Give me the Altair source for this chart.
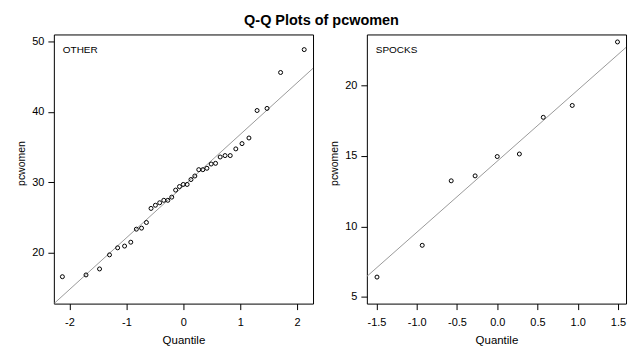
import altair as alt
import pandas as pd

FONT = "Liberation Sans"

# OTHER group: theoretical normal quantiles and sorted pcwomen values
other_q = [-2.125, -1.710, -1.472, -1.297, -1.154, -1.032, -0.923, -0.825, -0.734,
           -0.648, -0.567, -0.490, -0.415, -0.343, -0.272, -0.203, -0.135, -0.067,
           0.0,
           0.067, 0.135, 0.203, 0.272, 0.343, 0.415, 0.490, 0.567, 0.648,
           0.734, 0.825, 0.923, 1.032, 1.154, 1.297, 1.472, 1.710, 2.125]
other_pct = [16.6, 16.85, 17.7, 19.7, 20.7, 20.95, 21.5, 23.35, 23.5,
             24.3, 26.3, 26.75, 27.1, 27.45, 27.45, 27.9, 28.9, 29.4,
             29.7,
             29.7, 30.4, 30.9, 31.8, 31.8, 32.0, 32.6, 32.7, 33.6,
             33.8, 33.8, 34.75, 35.5, 36.3, 40.2, 40.5, 45.6, 48.85]
other_mean, other_sd = 29.46, 7.34

# SPOCKS group
spocks_q = [-1.494, -0.932, -0.572, -0.275, 0.0, 0.275, 0.572, 0.932, 1.494]
spocks_pct = [6.41, 8.66, 13.23, 13.58, 14.95, 15.13, 17.73, 18.57, 23.07]
spocks_mean, spocks_sd = 14.62, 5.04

other_xdom = [-2.275, 2.28]
other_ydom = [12.78, 51.0]
other_xticks = [-2, -1, 0, 1, 2]
other_yticks = [20, 30, 40, 50]

spocks_xdom = [-1.62, 1.60]
spocks_ydom = [4.53, 23.6]
spocks_xticks = [-1.5, -1.0, -0.5, 0.0, 0.5, 1.0, 1.5]
spocks_yticks = [5, 10, 15, 20]

W, H = 260, 270


def panel(q, pct, mu, sd, xdom, ydom, xticks, yticks, xfmt, label):
    pts = pd.DataFrame({"q": q, "pct": pct})
    ref = pd.DataFrame({"q": xdom, "pct": [mu + sd * x for x in xdom]})
    xs = alt.Scale(domain=xdom, nice=False, zero=False)
    ys = alt.Scale(domain=ydom, nice=False, zero=False)
    xaxis = alt.Axis(values=xticks, title="Quantile", titleFontSize=11.5,
                     titleBaseline="alphabetic", titleY=40,
                     labelBaseline="alphabetic", labelPadding=16,
                     labelFlush=False, labelOverlap=False,
                     labelExpr="replace(format(datum.value, '" + xfmt + "'), '\u2212', '-')")
    yaxis = alt.Axis(values=yticks, title="pcwomen", titleFontSize=10.5,
                     titleAngle=270, titleBaseline="alphabetic", titleAlign="center",
                     titleX=-29, titleY=129, labelPadding=4,
                     labelFlush=False, labelOverlap=False)
    ln = alt.Chart(ref).mark_line(color="#9a9a9a", strokeWidth=1, clip=True).encode(
        x=alt.X("q:Q", scale=xs, axis=xaxis),
        y=alt.Y("pct:Q", scale=ys, axis=yaxis),
    )
    pt = alt.Chart(pts).mark_point(shape="circle", filled=False, color="black",
                                   size=16, strokeWidth=1, opacity=1).encode(
        x=alt.X("q:Q", scale=xs),
        y=alt.Y("pct:Q", scale=ys),
    )
    txt = alt.Chart(pd.DataFrame({"t": [label]})).mark_text(
        align="left", baseline="alphabetic", font=FONT, fontSize=10,
        color="black", x=9, y=19).encode(text="t:N")
    return alt.layer(ln, pt, txt).properties(width=W, height=H)


left = panel(other_q, other_pct, other_mean, other_sd, other_xdom, other_ydom,
             other_xticks, other_yticks, "d", "OTHER")
right = panel(spocks_q, spocks_pct, spocks_mean, spocks_sd, spocks_xdom, spocks_ydom,
              spocks_xticks, spocks_yticks, ".1f", "SPOCKS")

chart = alt.hconcat(
    left, right, spacing=54, bounds="flush",
    title=alt.TitleParams("Q-Q Plots of pcwomen", font=FONT, fontSize=14.5,
                          fontWeight="bold", anchor="middle", frame="bounds",
                          baseline="alphabetic", offset=-6, color="black"),
    padding={"left": 8, "top": 5, "right": 5, "bottom": 5},
).configure_view(
    stroke="black", strokeWidth=1
).configure_axis(
    domain=False, grid=False, tickColor="black", tickSize=6, tickWidth=1,
    labelFont=FONT, labelFontSize=11, labelColor="black",
    titleFont=FONT, titleFontWeight="normal", titleColor="black",
)

chart.save("out.html", embed_options={"renderer": "svg", "actions": False})
